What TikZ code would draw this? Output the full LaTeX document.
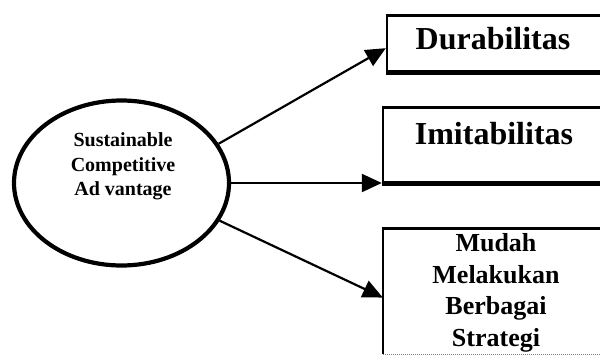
\documentclass[tikz,border=0pt]{standalone}
\usepackage{fontspec}
\setmainfont{Liberation Serif}
\usetikzlibrary{arrows.meta,calc,shapes.geometric}
\begin{document}
\begin{tikzpicture}[x=1pt,y=-1pt,
  boxframe/.style={draw, line width=2.4pt, inner sep=0pt},
  boxbottom/.style={line width=5.5pt},
  arr/.style={line width=2.2pt, -{Triangle[length=20pt,width=18pt]}},
  bigtext/.style={font=\bfseries\fontsize{32}{38}\selectfont, inner sep=0pt},
  midtext/.style={font=\bfseries\fontsize{26}{31.6}\selectfont, align=center, inner sep=0pt},
  smalltext/.style={font=\bfseries\fontsize{20}{24.5}\selectfont, align=center, inner sep=0pt}]
\useasboundingbox (0,0) rectangle (600,356);
% ellipse
\node[ellipse, draw, line width=4.2pt, minimum width=215pt, minimum height=165pt, inner sep=0pt] (e) at (121.5,183) {};
\node[smalltext] (et) at (123,166.5) {Sustainable\\Competitive\\Ad vantage};
% boxes
\node[boxframe, minimum width=216pt, minimum height=56pt] (b1) at (495,43.5) {};
\draw[boxbottom] (b1.south west) -- (b1.south east);
\node[bigtext] (t1) at (493,39) {Durabilitas};
\node[boxframe, minimum width=220pt, minimum height=75pt] (b2) at (493,145) {};
\draw[boxbottom] (b2.south west) -- (b2.south east);
\node[bigtext] (t2) at (494,134) {Imitabilitas};
\node[inner sep=0pt, minimum width=220pt, minimum height=125.5pt] (b3) at (493,291.25) {};
\draw[line width=2.4pt] (b3.south west) -- (b3.north west) -- (b3.north east) -- (b3.south east);
\draw[gray, densely dotted, line width=1pt] (b3.south west) -- (b3.south east);
\node[midtext] (t3) at (496,293) {Mudah\\Melakukan\\Berbagai\\Strategi};
% arrows
\draw[arr] (e.22) -- ($(b1.north west)!0.58!(b1.south west)$);
\draw[arr] (e.0) -- (e.0 -| b2.west);
\draw[arr] (e.-21) -- ($(b3.north west)!0.55!(b3.south west)$);
\end{tikzpicture}
\end{document}
